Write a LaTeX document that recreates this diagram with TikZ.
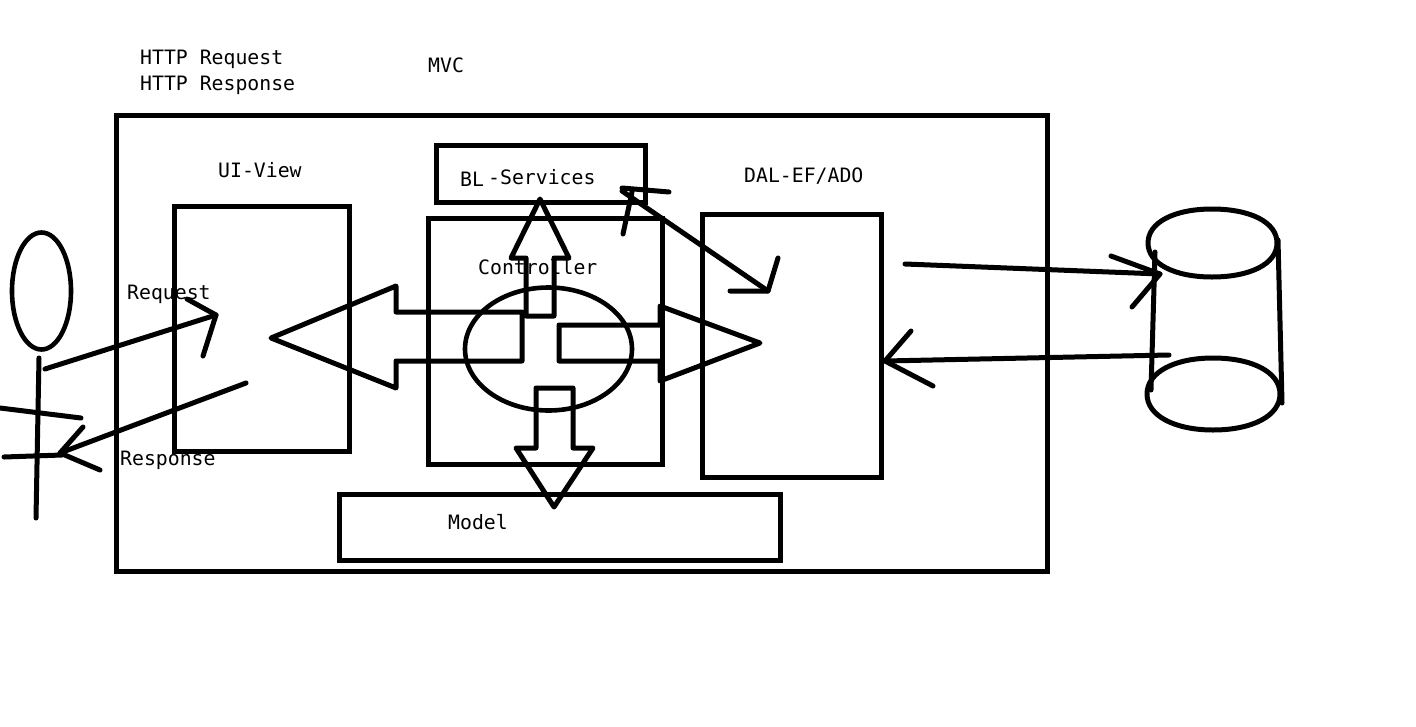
\documentclass[tikz,border=0pt]{standalone}
\usepackage{fontspec}
\usetikzlibrary{shapes.geometric}
\setmainfont{DejaVu Sans Mono}
\tikzset{
  ink/.style={draw=black,line width=5pt,line cap=round,line join=round},
  inkbox/.style={draw=black,line width=5pt,line join=miter,fill=none,inner sep=0pt,outer sep=0pt,anchor=north west},
  lbl/.style={font=\fontsize{19.8}{22}\selectfont,text=black,inner sep=0pt,anchor=west},
  oval/.style={draw=black,line width=4.6pt,ellipse,inner sep=0pt,outer sep=0pt}
}
\begin{document}
\begin{tikzpicture}[x=1pt,y=-1pt]
\useasboundingbox (0,0) rectangle (1416,726);
% labels
\node[lbl] (t1) at (140,59.5) {HTTP Request};
\node[lbl] (t2) at (140,85.5) {HTTP Response};
\node[lbl] (t3) at (428,65) {MVC};
\node[lbl] (t4) at (218,170.5) {UI-View};
\node[lbl] (t5) at (460,179) {BL};
\node[lbl] (t6) at (488,177) {-Services};
\node[lbl] (t7) at (744,176) {DAL-EF/ADO};
\node[lbl] (t8) at (478,267) {Controller};
\node[lbl] (t9) at (127,294) {Request};
\node[lbl] (t10) at (120,460) {Response};
\node[lbl] (t11) at (448,522) {Model};
% boxes
\node[inkbox,minimum width=931pt,minimum height=456pt] (outer) at (116,115) {};
\node[inkbox,minimum width=175pt,minimum height=245pt] (ui) at (174,206) {};
\node[inkbox,minimum width=209pt,minimum height=57pt] (bl) at (436,145) {};
\node[inkbox,minimum width=234pt,minimum height=246pt] (ctrl) at (428,218) {};
\node[inkbox,minimum width=179pt,minimum height=263pt] (dal) at (702,214) {};
\node[inkbox,minimum width=441pt,minimum height=66pt] (model) at (339,494) {};
% controller circle
\node[oval,minimum width=167pt,minimum height=123pt] (hub) at (548.5,349) {};
% block arrows
\draw[ink] (522,312) -- (396,312) -- (396,286) -- (271,338) -- (396,388) -- (396,361) -- (522,361) -- cycle;
\draw[ink] (526,316) -- (554,316) -- (554,258) -- (569,258) -- (540,199) -- (511,258) -- (526,258) -- cycle;
\draw[ink] (559,325) -- (660,325) -- (660,306) -- (760,343) -- (660,381) -- (660,361) -- (559,361) -- cycle;
\draw[ink] (536,388) -- (573,388) -- (573,448) -- (593,448) -- (554,507) -- (516,448) -- (536,448) -- cycle;
% stick figure
\node[oval,minimum width=59pt,minimum height=117pt] (head) at (41.5,291) {};
\draw[ink] (39,358) -- (36,518);
\draw[ink] (0,408) -- (81,418);
\draw[ink] (4,457) -- (62,455);
% request / response arrows
\draw[ink] (45,369) -- (216,315);
\draw[ink] (187,299) -- (216,315) -- (203,356);
\draw[ink] (246,383) -- (60,453);
\draw[ink] (83,427) -- (60,453) -- (100,470);
% BL-DAL arrow
\draw[ink] (622,191) -- (768,291);
\draw[ink] (669,192) -- (622,188) (632,192) -- (623,234);
\draw[ink] (778,258) -- (768,291) -- (730,291);
% DAL-DB arrows
\draw[ink] (905,264) -- (1160,274);
\draw[ink] (1111,256) -- (1160,274) -- (1132,307);
\draw[ink] (1169,355) -- (885,361);
\draw[ink] (911,331) -- (885,361) -- (933,386);
% database
\draw[ink] (1212,209) .. controls (1175,209) and (1148,222) .. (1148,243) .. controls (1148,264) and (1175,277) .. (1212,277) .. controls (1250,277) and (1277,264) .. (1277,243) .. controls (1277,222) and (1250,209) .. cycle;
\draw[ink] (1213,358) .. controls (1175,358) and (1147,372) .. (1147,394) .. controls (1147,416) and (1175,430) .. (1213,430) .. controls (1252,430) and (1280,416) .. (1280,394) .. controls (1280,372) and (1252,358) .. cycle;
\draw[ink] (1155,252) -- (1151,390);
\draw[ink] (1278,240) -- (1282,403);
\end{tikzpicture}
\end{document}
